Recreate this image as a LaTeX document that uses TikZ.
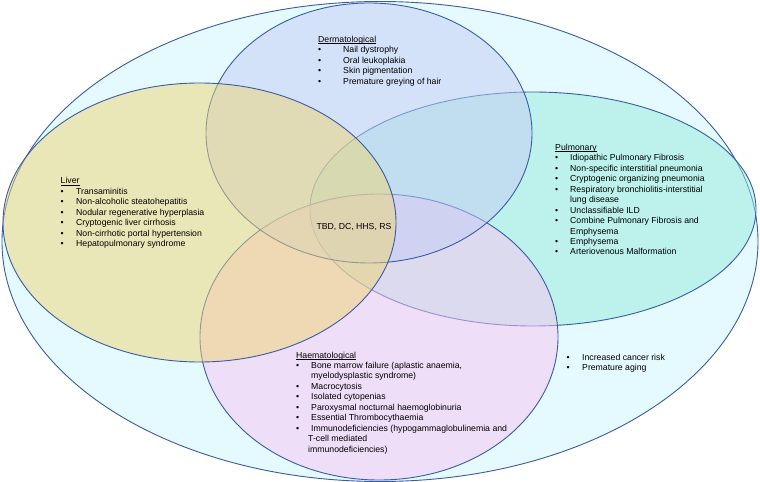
\documentclass[tikz,border=0pt]{standalone}
\usepackage{fontspec}
\setmainfont{Liberation Sans}

\definecolor{edge}{HTML}{3B5BA5}
\definecolor{outerfill}{HTML}{E4FAFE}
\definecolor{dermfill}{HTML}{C6CCF6}
\definecolor{liverfill}{HTML}{EED672}
\definecolor{pulmfill}{HTML}{96ECDA}
\definecolor{haemfill}{HTML}{FAC4F4}

\newcommand{\ttl}[1]{\setbox0\hbox{#1}\rlap{\rule[-1.3bp]{\wd0}{0.5bp}}\box0}
\newlength{\bulw}
\newcommand{\bul}{\makebox[\bulw][l]{\textbullet}}
\newcommand{\cont}{\hspace*{\bulw}}

\begin{document}
\begin{tikzpicture}[x=1bp, y=-1bp,
    set/.style={draw=edge, line width=0.9bp, fill opacity=0.5},
    txt/.style={font=\fontsize{8.7bp}{10.45bp}\selectfont, inner sep=0pt, anchor=base west}]
    \useasboundingbox (0, 0) rectangle (760, 482);

    \draw[draw=edge, line width=0.9bp, fill=outerfill] (380, 241.5) ellipse (378bp and 240bp);
    \draw[set, fill=pulmfill] (533, 209) ellipse (223bp and 117bp);
    \draw[set, fill=haemfill] (379, 337) ellipse (179bp and 143bp);
    \draw[set, fill=dermfill] (369, 133) ellipse (163bp and 130bp);
    \draw[set, fill=liverfill] (199.5, 222.5) ellipse (196.5bp and 139.5bp);

    \node[txt] (derm) at (318, 42.5) {\setlength{\bulw}{25bp}%
        \begin{tabular}[t]{@{}l@{}}
        \ttl{Dermatological}\\
        \bul Nail dystrophy\\
        \bul Oral leukoplakia\\
        \bul Skin pigmentation\\
        \bul Premature greying of hair
        \end{tabular}};

    \node[txt] (liver) at (60.5, 184) {\setlength{\bulw}{15.5bp}%
        \begin{tabular}[t]{@{}l@{}}
        \ttl{Liver}\\
        \bul Transaminitis\\
        \bul Non-alcoholic steatohepatitis\\
        \bul Nodular regenerative hyperplasia\\
        \bul Cryptogenic liver cirrhosis\\
        \bul Non-cirrhotic portal hypertension\\
        \bul Hepatopulmonary syndrome
        \end{tabular}};

    \node[txt] (pulm) at (555, 150.5) {\setlength{\bulw}{15bp}%
        \begin{tabular}[t]{@{}l@{}}
        \ttl{Pulmonary}\\
        \bul Idiopathic Pulmonary Fibrosis\\
        \bul Non-specific interstitial pneumonia\\
        \bul Cryptogenic organizing pneumonia\\
        \bul Respiratory bronchiolitis-interstitial\\
        \cont lung disease\\
        \bul Unclassifiable ILD\\
        \bul Combine Pulmonary Fibrosis and\\
        \cont Emphysema\\
        \bul Emphysema\\
        \bul Arteriovenous Malformation
        \end{tabular}};

    \node[txt] (haem) at (296, 358) {\setlength{\bulw}{15bp}%
        \begin{tabular}[t]{@{}l@{}}
        \ttl{Haematological}\\
        \bul Bone marrow failure (aplastic anaemia,\\
        \cont myelodysplastic syndrome)\\
        \bul Macrocytosis\\
        \bul Isolated cytopenias\\
        \bul Paroxysmal nocturnal haemoglobinuria\\
        \bul Essential Thrombocythaemia\\
        \bul Immunodeficiencies (hypogammaglobulinemia and\\
        \hspace*{12bp}T-cell mediated\\
        \hspace*{12bp}immunodeficiencies)
        \end{tabular}};

    \node[txt] (other) at (566.5, 360) {\setlength{\bulw}{15.5bp}%
        \begin{tabular}[t]{@{}l@{}}
        \bul Increased cancer risk\\
        \bul Premature aging
        \end{tabular}};

    \node[txt, anchor=center] (core) at (354, 227.5) {TBD, DC, HHS, RS};
\end{tikzpicture}
\end{document}
